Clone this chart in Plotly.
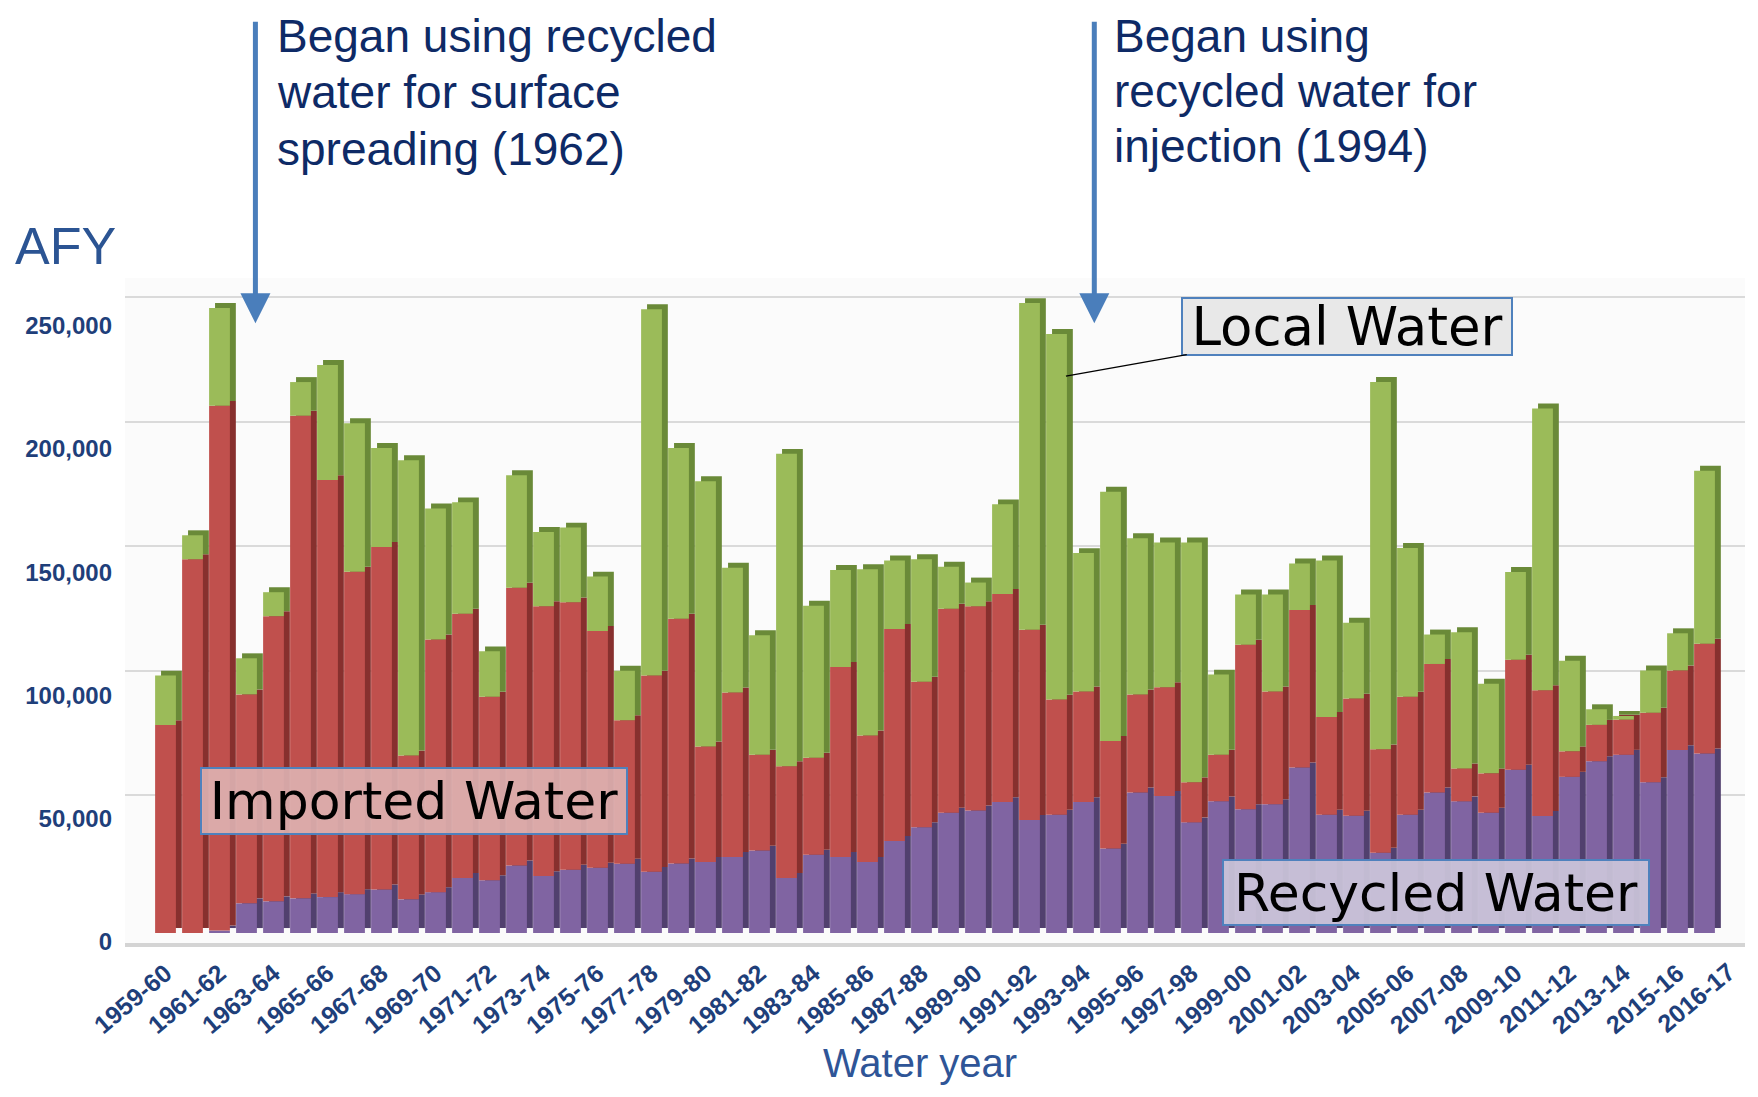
import numpy as np
import plotly.graph_objects as go

# Water years (categories) and the labelled ticks on the x axis
water_years = [
    "1959-60", "1960-61", "1961-62", "1962-63", "1963-64", "1964-65", "1965-66", "1966-67",
    "1967-68", "1968-69", "1969-70", "1970-71", "1971-72", "1972-73", "1973-74", "1974-75",
    "1975-76", "1976-77", "1977-78", "1978-79", "1979-80", "1980-81", "1981-82", "1982-83",
    "1983-84", "1984-85", "1985-86", "1986-87", "1987-88", "1988-89", "1989-90", "1990-91",
    "1991-92", "1992-93", "1993-94", "1994-95", "1995-96", "1996-97", "1997-98", "1998-99",
    "1999-00", "2000-01", "2001-02", "2002-03", "2003-04", "2004-05", "2005-06", "2006-07",
    "2007-08", "2008-09", "2009-10", "2010-11", "2011-12", "2012-13", "2013-14", "2014-15",
    "2015-16", "2016-17",
]
tick_years = [
    "1959-60", "1961-62", "1963-64", "1965-66", "1967-68", "1969-70", "1971-72", "1973-74",
    "1975-76", "1977-78", "1979-80", "1981-82", "1983-84", "1985-86", "1987-88", "1989-90",
    "1991-92", "1993-94", "1995-96", "1997-98", "1999-00", "2001-02", "2003-04", "2005-06",
    "2007-08", "2009-10", "2011-12", "2013-14", "2015-16",
]
last_tick = "2016-17"   # drawn a little further right, like in the original chart

# Acre-feet per year
recycled = [
    0, 0, 1000, 12000, 12800, 14000, 14500, 15700, 17600, 13600,
    16500, 22200, 21300, 27300, 23000, 25600, 26400, 28000, 24700, 28100,
    28700, 30700, 33300, 22200, 31600, 30700, 28700, 37200, 42700, 48600,
    49500, 52900, 45700, 47800, 52900, 34100, 56800, 55400, 44700, 53200,
    50000, 52000, 66900, 47800, 47400, 32400, 47800, 56800, 53200, 48600,
    66000, 47300, 63100, 69400, 72000, 60900, 73900, 72500,
]
imported = [
    84000, 151000, 212000, 84400, 115200, 195000, 168500, 130300, 138400, 58100,
    102100, 106800, 74200, 112200, 109000, 108000, 95600, 58000, 79300, 98900,
    46700, 66500, 38700, 45200, 39200, 76800, 51100, 85600, 58800, 82400,
    82500, 84100, 76800, 46500, 44700, 43500, 39600, 43900, 16200, 18800,
    66500, 45600, 63600, 39500, 47300, 41800, 47700, 51900, 13300, 15900,
    44400, 50800, 10300, 14700, 14200, 28100, 32200, 44400,
]
local = [
    20000, 9700, 39500, 14600, 9700, 13600, 46500, 60000, 40000, 119300,
    52900, 45000, 18300, 45500, 30000, 30200, 22000, 20000, 148000, 69000,
    107100, 50400, 48300, 126200, 61400, 39200, 67200, 27700, 49500, 17000,
    9600, 36200, 132000, 147700, 55900, 100700, 63100, 58500, 96900, 32400,
    20300, 39200, 18800, 63200, 30700, 148400, 60100, 11900, 55000, 36200,
    35500, 113800, 36600, 6300, 1500, 17100, 15000, 69900,
]

rec = np.array(recycled)
imp = np.array(imported)
loc = np.array(local)
bases = [np.zeros(len(rec)), rec, rec + imp]

series = [
    ("Recycled Water", rec, "#8064a2", "#51406e"),
    ("Imported Water", imp, "#c0504d", "#87302e"),
    ("Local Water", loc, "#9bbb59", "#6a8a38"),
]

bar_w = 0.77
depth_x = 0.22     # sideways shift of the dark "side" faces (category units)
depth_y = 2000     # upward shift of the dark faces (AF)

fig = go.Figure()

# dark copies behind, to fake the 3D sides of the columns
for (name, vals, front, side), base in zip(series, bases):
    fig.add_trace(go.Bar(x=water_years, y=vals, base=base + depth_y,
                         width=bar_w, offset=-bar_w / 2 + depth_x,
                         marker=dict(color=side, line_width=0),
                         showlegend=False, hoverinfo="skip"))

# front faces
for (name, vals, front, side), base in zip(series, bases):
    fig.add_trace(go.Bar(x=water_years, y=vals, base=base, width=bar_w, offset=-bar_w / 2,
                         marker=dict(color=front, line_width=0), name=name))

# empty traces so the grid axis and the label axis get drawn
fig.add_trace(go.Scatter(x=[water_years[0]], y=[None], yaxis="y2", showlegend=False, hoverinfo="skip"))
fig.add_trace(go.Scatter(x=[water_years[0]], y=[None], yaxis="y3", showlegend=False, hoverinfo="skip"))

navy = "#1f3f7a"

# the page has an 8px body margin, so the figure is 16px smaller than the window
fig.update_layout(
    width=1742, height=1081,
    margin=dict(l=117, r=5, t=270, b=146),
    paper_bgcolor="white", plot_bgcolor="#fbfbfb",
    barmode="overlay", showlegend=False,
    font=dict(family="Liberation Sans, Arial, sans-serif"),
    xaxis=dict(type="category", categoryorder="array", categoryarray=water_years,
               range=[-1.5, 58.5], tickmode="array", tickvals=tick_years, ticktext=tick_years,
               tickangle=-40, tickfont=dict(size=25, color=navy, weight="bold"),
               ticklabelstandoff=2, ticks="", showgrid=False, zeroline=False,
               showline=True, linecolor="#d4d4d4", linewidth=4),
    yaxis=dict(range=[-4040, 264650], visible=False, fixedrange=True),
    yaxis2=dict(overlaying="y", anchor="x", side="left", range=[-9240, 257800],
                tickvals=[50000, 100000, 150000, 200000, 250000], showticklabels=False,
                showgrid=True, gridcolor="#dadada", gridwidth=2, zeroline=False, ticks=""),
    yaxis3=dict(overlaying="y", anchor="x", side="left", range=[-405, 269260],
                tickvals=[0, 50000, 100000, 150000, 200000, 250000], tickformat=",",
                tickfont=dict(size=24, color=navy, weight="bold"), ticklabelstandoff=12,
                showgrid=False, zeroline=False, ticks=""),
)

fig.add_annotation(x=0.970, y=-0.0812, xref="paper", yref="paper", xanchor="center",
                   yanchor="middle", showarrow=False, text=last_tick, textangle=-40,
                   font=dict(size=25, color=navy, weight="bold"))

# event arrows and their notes
arrow_blue = "#4a7ebb"
note_color = "#0e2a66"
for xpos in [3.33, 34.4]:
    fig.add_annotation(x=xpos, xref="x", y=0.932, yref="paper", text="", showarrow=True,
                       ax=0, ay=-303, arrowhead=2, arrowsize=1.2, arrowwidth=5,
                       arrowcolor=arrow_blue)

notes = [
    (0.0924, [1.364, 1.279, 1.194], ["Began using recycled", "water for surface", "spreading (1962)"]),
    (0.6092, [1.364, 1.281, 1.198], ["Began using", "recycled water for", "injection (1994)"]),
]
for xpos, ys, lines in notes:
    for ypos, line in zip(ys, lines):
        fig.add_annotation(x=xpos, y=ypos, xref="paper", yref="paper", xanchor="left",
                           yanchor="middle", showarrow=False, text=line,
                           font=dict(size=46, color=note_color))

# axis titles
fig.add_annotation(x=-0.069, y=1.048, xref="paper", yref="paper", xanchor="left", yanchor="middle",
                   showarrow=False, text="AFY", font=dict(size=52, color="#2b5493"))
fig.add_annotation(x=0.491, y=-0.181, xref="paper", yref="paper", xanchor="center", yanchor="middle",
                   showarrow=False, text="Water year", font=dict(size=40, color="#2f5597"))

# series labels
box_font = dict(family="DejaVu Sans, Verdana, sans-serif", size=52, color="black")
fig.add_annotation(x=0.1783, y=0.2135, xref="paper", yref="paper", xanchor="center", yanchor="middle",
                   showarrow=False, text="Imported Water", font=box_font, width=424, height=64,
                   bgcolor="rgba(222,178,178,0.9)", bordercolor="#4f81bd", borderwidth=2, borderpad=0)
fig.add_annotation(x=0.8093, y=0.0759, xref="paper", yref="paper", xanchor="center", yanchor="middle",
                   showarrow=False, text="Recycled Water", font=box_font, width=424, height=63,
                   bgcolor="rgba(204,198,218,0.92)", bordercolor="#4f81bd", borderwidth=2, borderpad=0)
fig.add_annotation(x=33.35, xref="x", y=225000, yref="y", text="Local Water",
                   showarrow=True, ax=281, ay=-50, arrowhead=0, arrowwidth=1.5, arrowcolor="black",
                   font=dict(family="DejaVu Sans, Verdana, sans-serif", size=53, color="black"),
                   width=328, height=55, bgcolor="#e8e8e8", bordercolor="#4f81bd",
                   borderwidth=2, borderpad=0)

fig.write_html("out.html")
